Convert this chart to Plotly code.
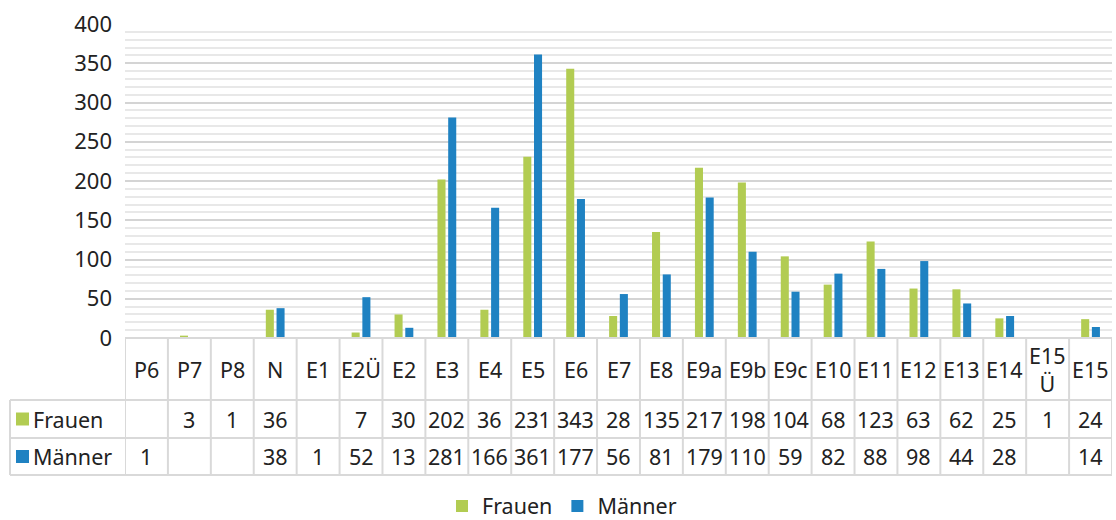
import plotly.graph_objects as go

categories = ["P6", "P7", "P8", "N", "E1", "E2Ü", "E2", "E3", "E4", "E5", "E6", "E7",
              "E8", "E9a", "E9b", "E9c", "E10", "E11", "E12", "E13", "E14", "E15Ü", "E15"]
header_labels = ["P6", "P7", "P8", "N", "E1", "E2Ü", "E2", "E3", "E4", "E5", "E6", "E7",
                 "E8", "E9a", "E9b", "E9c", "E10", "E11", "E12", "E13", "E14", "E15<br>Ü", "E15"]
frauen = [None, 3, 1, 36, None, 7, 30, 202, 36, 231, 343, 28,
          135, 217, 198, 104, 68, 123, 63, 62, 25, 1, 24]
maenner = [1, None, None, 38, 1, 52, 13, 281, 166, 361, 177, 56,
           81, 179, 110, 59, 82, 88, 98, 44, 28, None, 14]
series_names = ["Frauen", "Männer"]
colors = ["#b2cc52", "#1f82c2"]
y_ticks = [0, 50, 100, 150, 200, 250, 300, 350, 400]

FONT = "Noto Sans"
FS = 21.5
TXT = "#222222"
LINE = "#d9d9d9"

W_FIG, H_FIG = 1116, 520
L, R, T, B = 125, 1112, 24, 338
PW, PH = R - L, B - T


def px(xp):
    return (xp - L) / PW


def py(yp):
    return (B - yp) / PH


n = len(categories)
idx = list(range(n))

fig = go.Figure()
for name, vals, col in zip(series_names, [frauen, maenner], colors):
    fig.add_trace(go.Bar(x=idx, y=vals, name=name, marker=dict(color=col, line_width=0)))

shapes = []
annotations = []

row_top = [338, 400, 438, 475]
# vertical lines between categories
for i in range(n + 1):
    shapes.append(dict(type="line", xref="x", yref="paper", x0=i - 0.5, x1=i - 0.5,
                       y0=py(338), y1=py(475), line=dict(color=LINE, width=2)))
# horizontal lines
for yy in row_top[1:]:
    shapes.append(dict(type="line", xref="paper", yref="paper", x0=px(10), x1=px(1112),
                       y0=py(yy), y1=py(yy), line=dict(color=LINE, width=2)))
shapes.append(dict(type="line", xref="paper", yref="paper", x0=px(125), x1=px(1112),
                   y0=py(338), y1=py(338), line=dict(color=LINE, width=2)))
shapes.append(dict(type="line", xref="paper", yref="paper", x0=px(10), x1=px(10),
                   y0=py(400), y1=py(475), line=dict(color=LINE, width=2)))

# header labels
for i, lab in enumerate(header_labels):
    annotations.append(dict(x=i, y=py(369), xref="x", yref="paper", text=lab, showarrow=False,
                            font=dict(family=FONT, size=FS, color=TXT), xanchor="center",
                            yanchor="middle"))

# data rows
row_centers = [419, 456.5]
for name, vals, col, yc in zip(series_names, [frauen, maenner], colors, row_centers):
    shapes.append(dict(type="rect", xref="paper", yref="paper", x0=px(16), x1=px(29),
                       y0=py(yc + 6.5), y1=py(yc - 6.5), fillcolor=col, line_width=0))
    annotations.append(dict(x=px(31), y=py(yc), xref="paper", yref="paper", text=name,
                            showarrow=False, font=dict(family=FONT, size=FS, color=TXT),
                            xanchor="left", yanchor="middle"))
    for i, v in enumerate(vals):
        if v is None:
            continue
        annotations.append(dict(x=i, y=py(yc), xref="x", yref="paper", text=str(v),
                                showarrow=False, font=dict(family=FONT, size=FS, color=TXT),
                                xanchor="center", yanchor="middle"))

fig.update_layout(
    width=W_FIG, height=H_FIG,
    margin=dict(l=L, r=W_FIG - R, t=T, b=H_FIG - B, autoexpand=False),
    paper_bgcolor="white", plot_bgcolor="white",
    barmode="group", bargap=0.5, bargroupgap=0.25,
    font=dict(family=FONT, size=FS, color=TXT),
    showlegend=True,
    legend=dict(orientation="h", x=px(562), xanchor="center", y=py(506), yanchor="middle",
                font=dict(family=FONT, size=FS, color=TXT), itemwidth=30,
                traceorder="normal"),
    shapes=shapes, annotations=annotations,
)
fig.update_xaxes(range=[-0.5, n - 0.5], showticklabels=False, showgrid=False,
                 zeroline=False, showline=False, ticks="")
fig.update_yaxes(range=[0, 400], tickvals=y_ticks, showgrid=True, gridcolor="#d4d4d4",
                 gridwidth=1.5, zeroline=False, showline=False, ticks="",
                 ticklabelstandoff=12,
                 tickfont=dict(family=FONT, size=22, color=TXT),
                 minor=dict(dtick=10, tick0=0, showgrid=True, gridcolor="#e8e8e8", gridwidth=1.5))

fig.write_html("out.html", config={"displayModeBar": False},
               post_script="document.body.style.margin='0';document.body.style.padding='0';"
                           "document.documentElement.style.overflow='hidden';")
